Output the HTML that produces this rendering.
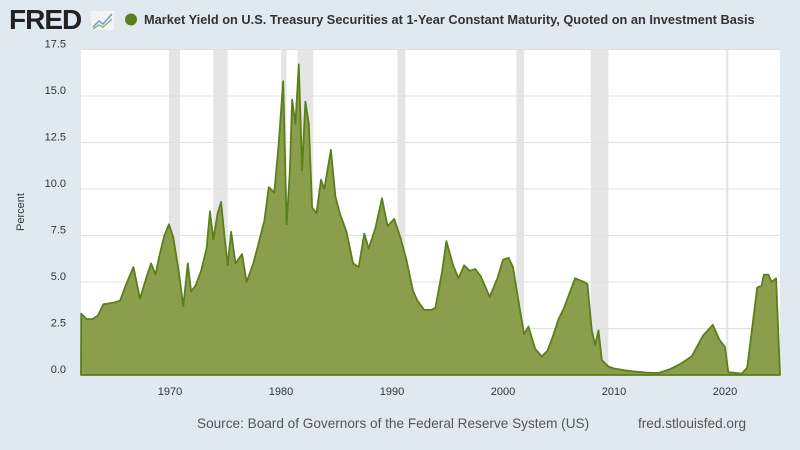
<!DOCTYPE html>
<html><head><meta charset="utf-8"><style>
body{margin:0;width:800px;height:450px;background:#e1e9f0;overflow:hidden;font-family:"Liberation Sans",sans-serif}
</style></head><body>
<svg width="800" height="450" xmlns="http://www.w3.org/2000/svg" style="position:absolute;left:0;top:0">
<text x="9" y="29" font-size="28" font-weight="bold" fill="#222" letter-spacing="-1">FRED</text>
<rect x="91" y="11" width="23" height="19" fill="#f2f4f6"/>
<polyline points="93,27 99,21 103,24 112,14" fill="none" stroke="#6a9bd0" stroke-width="1.5"/>
<polyline points="93,29 99,25 103,27 112,19" fill="none" stroke="#8dbb5a" stroke-width="1.5"/>
<circle cx="131" cy="19.5" r="6" fill="#5b7f1a"/>
<text x="144" y="24" font-size="12.8" font-weight="bold" fill="#333">Market Yield on U.S. Treasury Securities at 1-Year Constant Maturity, Quoted on an Investment Basis</text>
<rect x="81" y="50" width="699" height="325" fill="#fff"/>
<g id="rec" fill="#e5e5e5"></g>
<g id="grid" stroke="#e0e0e0" stroke-width="1"></g>
<path id="area" fill="#8a9e4c" stroke="#5b7f1a" stroke-width="1.8" stroke-linejoin="round"/>
<g id="lab" font-size="11" fill="#333"></g>
<text x="24" y="212" font-size="11" fill="#333" transform="rotate(-90 24 212)" text-anchor="middle">Percent</text>
<text x="197" y="428" font-size="13.6" fill="#555">Source: Board of Governors of the Federal Reserve System (US)</text>
<text x="638" y="428" font-size="13.6" fill="#555">fred.stlouisfed.org</text>
</svg>
<script>
const X=y=>170+(y-1970)*11.1, Y=v=>375-v*18.6, ns="http://www.w3.org/2000/svg";
function el(p,t,a,txt){const e=document.createElementNS(ns,t);for(const k in a)e.setAttribute(k,a[k]);if(txt)e.textContent=txt;document.getElementById(p).appendChild(e);}
[[1969.9,1970.9],[1973.9,1975.2],[1980.0,1980.5],[1981.5,1982.9],[1990.5,1991.2],[2001.2,2001.9],[2007.9,2009.5],[2020.1,2020.3]].forEach(r=>el("rec","rect",{x:X(r[0]),y:50,width:X(r[1])-X(r[0]),height:325}));
for(let i=1;i<=7;i++){const v=i*2.5;el("grid","line",{x1:81,x2:780,y1:Y(v),y2:Y(v)});}
for(let i=0;i<=7;i++){const v=i*2.5;el("lab","text",{x:66,y:Y(v)-2,"text-anchor":"end"},v.toFixed(1));}
for(let y=1970;y<=2020;y+=10)el("lab","text",{x:X(y),y:395,"text-anchor":"middle"},y);
const d=[1962,3.3,1962.5,3.0,1963,3.0,1963.5,3.2,1964,3.8,1965,3.9,1965.5,4.0,1966,4.8,1966.7,5.8,1967.3,4.1,1967.9,5.3,1968.3,6.0,1968.7,5.4,1969,6.3,1969.5,7.5,1969.9,8.1,1970.3,7.4,1970.8,5.5,1971.2,3.7,1971.6,6.0,1971.9,4.5,1972.3,4.8,1972.8,5.6,1973.3,6.8,1973.6,8.8,1973.9,7.3,1974.3,8.7,1974.6,9.3,1974.9,7.5,1975.2,5.9,1975.5,7.7,1975.9,6.0,1976.5,6.5,1976.9,5.0,1977.5,6.0,1977.9,6.9,1978.5,8.3,1978.9,10.1,1979.4,9.8,1979.8,12.5,1980.2,15.8,1980.5,8.1,1980.8,11.0,1981.0,14.8,1981.3,13.5,1981.6,16.7,1981.9,11.0,1982.2,14.7,1982.5,13.5,1982.8,9.0,1983.2,8.7,1983.6,10.5,1983.9,10.0,1984.5,12.1,1984.9,9.6,1985.3,8.7,1985.9,7.7,1986.5,6.0,1987.0,5.8,1987.5,7.6,1987.9,6.8,1988.5,7.9,1989.1,9.5,1989.6,8.0,1990.2,8.4,1990.8,7.3,1991.3,6.2,1991.9,4.5,1992.3,4.0,1992.9,3.5,1993.5,3.5,1993.9,3.6,1994.5,5.5,1994.9,7.2,1995.5,5.9,1996,5.2,1996.5,5.9,1997,5.6,1997.5,5.7,1998,5.3,1998.8,4.2,1999.5,5.2,2000,6.2,2000.5,6.3,2000.9,5.8,2001.5,3.6,2001.9,2.2,2002.3,2.6,2002.9,1.4,2003.5,1.0,2004,1.3,2004.5,2.1,2005,3.0,2005.5,3.6,2006.5,5.2,2007.3,5.0,2007.6,4.9,2008,2.4,2008.3,1.6,2008.6,2.4,2008.9,0.8,2009.5,0.45,2010,0.35,2011,0.25,2012,0.18,2013,0.13,2014,0.11,2015,0.3,2016,0.6,2017,1.0,2018,2.1,2018.9,2.7,2019.5,1.9,2020,1.5,2020.3,0.15,2021.5,0.07,2022,0.4,2022.5,2.8,2022.9,4.7,2023.3,4.8,2023.5,5.4,2023.9,5.4,2024.2,5.0,2024.6,5.2];
let p="M81,375";for(let i=0;i<d.length;i+=2)p+=" L"+Math.min(780,X(d[i])).toFixed(1)+","+Y(d[i+1]).toFixed(1);p+=" L780,375 Z";
document.getElementById("area").setAttribute("d",p);
</script>
</body></html>
